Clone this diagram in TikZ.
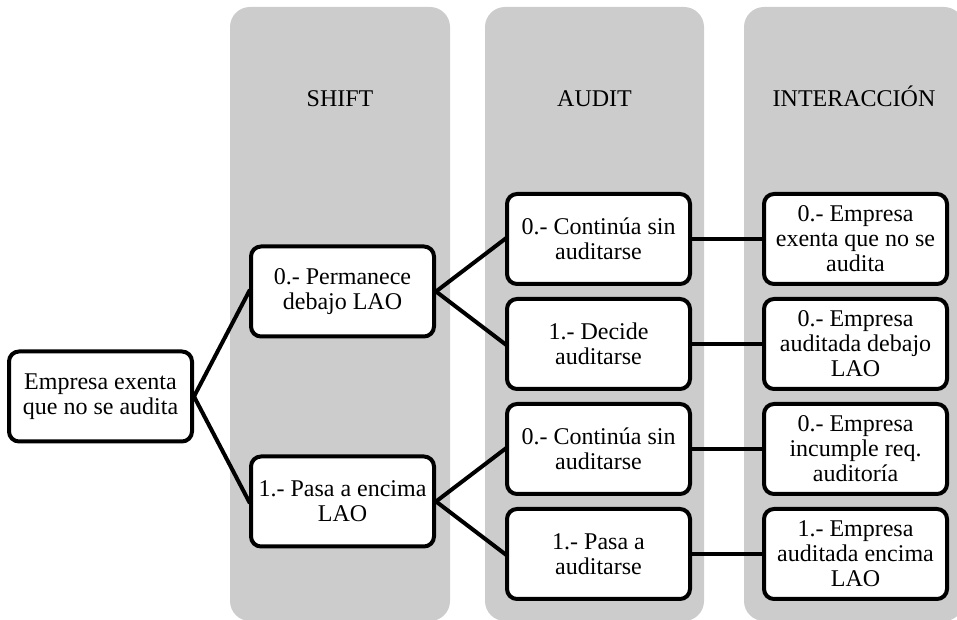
\documentclass[tikz,border=0pt]{standalone}
\usepackage{fontspec}
\setmainfont{Liberation Serif}
\usetikzlibrary{positioning, calc, backgrounds}

\begin{document}
\begin{tikzpicture}[
        x=1pt, y=1pt,
        font=\fontsize{24}{25}\selectfont,
        choice/.style={rectangle, draw=black, fill=white, line width=4pt, rounded corners=10pt, minimum width=183pt, minimum height=90pt, inner sep=0pt, align=center},
        column/.style={fill=black!20, rounded corners=20pt},
        header/.style={anchor=base, inner sep=0pt},
        link/.style={line width=4pt, shorten <=-2pt, shorten >=-2pt}
    ]
        \useasboundingbox (0,0) rectangle (957,620);
        \clip (0,0) rectangle (957,620);

        % audit column
        \node[choice] at (598.5,381) (A0) {0.- Continúa sin\\auditarse};
        \node[choice, below=11pt of A0] (A1) {1.- Decide\\auditarse};
        \node[choice, below=11pt of A1] (A2) {0.- Continúa sin\\auditarse};
        \node[choice, below=11pt of A2] (A3) {1.- Pasa a\\auditarse};

        % interaction column
        \node[choice, right=70pt of A0] (I0) {0.- Empresa\\exenta que no se\\audita};
        \node[choice, right=70pt of A1] (I1) {0.- Empresa\\auditada debajo\\LAO};
        \node[choice, right=70pt of A2] (I2) {0.- Empresa\\incumple req.\\auditoría};
        \node[choice, right=70pt of A3] (I3) {1.- Empresa\\auditada encima\\LAO};

        % shift column
        \coordinate (M0) at ($(A0.west)!0.5!(A1.west)$);
        \coordinate (M1) at ($(A2.west)!0.5!(A3.west)$);
        \node[choice, left=69pt of M0] (S0) {0.- Permanece\\debajo LAO};
        \node[choice, left=69pt of M1] (S1) {1.- Pasa a encima\\LAO};

        % root
        \coordinate (MR) at ($(S0.west)!0.5!(S1.west)$);
        \node[choice, left=55pt of MR] (ROOT) {Empresa exenta\\que no se audita};

        \begin{scope}[on background layer]
            \fill[column] (230,-1) rectangle (450,613);
            \fill[column] (485,-1) rectangle (704,613);
            \fill[column] (744,-1) rectangle (964,613);
            \node[header] at (340,513) (HSHIFT) {SHIFT};
            \node[header] at (594.5,513) (HAUDIT) {AUDIT};
            \node[header] at (854,513) (HINTER) {INTERACCIÓN};
        \end{scope}

        \draw[link] (ROOT.east) -- (S0.west);
        \draw[link] (ROOT.east) -- (S1.west);
        \draw[link] (S0.east) -- (A0.west);
        \draw[link] (S0.east) -- (A1.west);
        \draw[link] (S1.east) -- (A2.west);
        \draw[link] (S1.east) -- (A3.west);
        \foreach \i in {0,...,3}
            \draw[link] (A\i.east) -- (I\i.west);
    \end{tikzpicture}
\end{document}
